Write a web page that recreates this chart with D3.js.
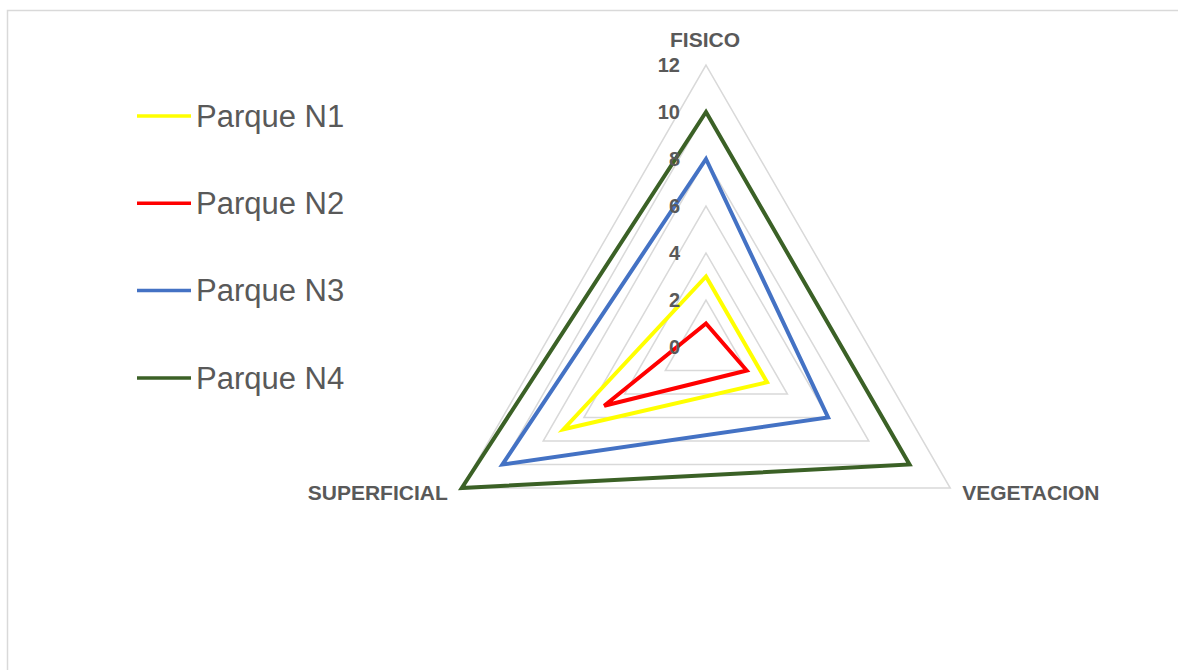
<!DOCTYPE html>
<html>
<head>
<meta charset="utf-8">
<script src="https://cdn.jsdelivr.net/npm/d3@7"></script>
<style>
  body { margin: 0; background: #fff; }
  text { font-family: Arial, "Liberation Sans", sans-serif; }
</style>
</head>
<body>
<div id="chart"></div>
<script>
// axes of the radar, clockwise from top
const categories = ["FISICO", "VEGETACION", "SUPERFICIAL"];
const seriesNames = ["Parque N1", "Parque N2", "Parque N3", "Parque N4"];
const seriesColors = ["#ffff00", "#ff0000", "#4472c4", "#3b6126"];
const n1 = [3, 3, 7];
const n2 = [1, 2, 5];
const n3 = [8, 6, 10];
const n4 = [10, 10, 12];
const tickValues = [0, 2, 4, 6, 8, 10, 12];

const allSeries = [n1, n2, n3, n4];

const width = 1178, height = 670;
const cx = 706, cy = 347, radius = 282;

const svg = d3.select("#chart").append("svg")
  .attr("width", width)
  .attr("height", height);

// chart area border (runs off the right/bottom edge)
svg.append("rect")
  .attr("x", 7.5).attr("y", 10.5)
  .attr("width", 1200).attr("height", 700)
  .attr("fill", "none")
  .attr("stroke", "#d9d9d9")
  .attr("stroke-width", 1.5);

const r = d3.scaleLinear().domain([0, 12]).range([0, radius]);
const angle = i => (i / categories.length) * 2 * Math.PI;

const radar = d3.lineRadial()
  .angle((d, i) => angle(i))
  .radius(d => r(d))
  .curve(d3.curveLinearClosed);

const g = svg.append("g").attr("transform", "translate(" + cx + "," + cy + ")");

// grid triangles
g.selectAll(".grid")
  .data(tickValues.filter(t => t > 0))
  .enter().append("path")
  .attr("class", "grid")
  .attr("d", t => radar(categories.map(() => t)))
  .attr("fill", "none")
  .attr("stroke", "#d9d9d9")
  .attr("stroke-width", 1.5);

// series
g.selectAll(".series")
  .data(allSeries)
  .enter().append("path")
  .attr("class", "series")
  .attr("d", d => radar(d))
  .attr("fill", "none")
  .attr("stroke", (d, i) => seriesColors[i])
  .attr("stroke-width", 4)
  .attr("stroke-linejoin", "miter");

// tick labels along the top axis
g.selectAll(".tick")
  .data(tickValues)
  .enter().append("text")
  .attr("class", "tick")
  .attr("x", -26)
  .attr("y", t => -r(t))
  .attr("dy", "0.35em")
  .attr("text-anchor", "end")
  .attr("font-size", 20)
  .attr("font-weight", "bold")
  .attr("fill", "#595959")
  .text(d => d);

// category labels
const catPos = [
  { x: -1, y: -r(12) - 25, anchor: "middle" },
  { x: r(12) * Math.sin(angle(1)) + 12, y: -r(12) * Math.cos(angle(1)) + 5, anchor: "start" },
  { x: r(12) * Math.sin(angle(2)) - 14, y: -r(12) * Math.cos(angle(2)) + 5, anchor: "end" }
];
g.selectAll(".cat")
  .data(categories)
  .enter().append("text")
  .attr("class", "cat")
  .attr("x", (d, i) => catPos[i].x)
  .attr("y", (d, i) => catPos[i].y)
  .attr("dy", "0.35em")
  .attr("text-anchor", (d, i) => catPos[i].anchor)
  .attr("font-size", 21)
  .attr("font-weight", "bold")
  .attr("fill", "#595959")
  .text(d => d);

// legend
const legend = svg.append("g").attr("transform", "translate(137,116)");
const item = legend.selectAll(".item")
  .data(seriesNames)
  .enter().append("g")
  .attr("class", "item")
  .attr("transform", (d, i) => "translate(0," + i * 87.3 + ")");
item.append("line")
  .attr("x1", 0).attr("x2", 54)
  .attr("y1", 0).attr("y2", 0)
  .attr("stroke", (d, i) => seriesColors[i])
  .attr("stroke-width", 3.5);
item.append("text")
  .attr("x", 59)
  .attr("y", 0)
  .attr("dy", "0.35em")
  .attr("font-size", 31)
  .attr("fill", "#595959")
  .text(d => d);
</script>
</body>
</html>
